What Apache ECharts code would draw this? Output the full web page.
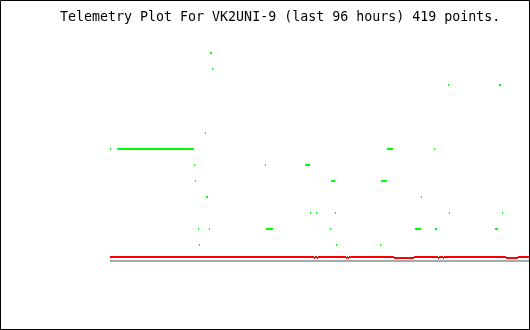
<!DOCTYPE html>
<html>
<head>
<meta charset="utf-8">
<script src="https://cdn.jsdelivr.net/npm/echarts@6/dist/echarts.min.js"></script>
<style>
html,body{margin:0;padding:0;background:#fff;}
#chart{width:530px;height:330px;}
</style>
</head>
<body>
<div id="chart"></div>
<script>
// Title
const titleText = "Telemetry Plot For VK2UNI-9 (last 96 hours) 419 points.";

// Green telemetry readings: runs of consecutive samples (sample index start, end) at a level
const greenStart = [0, 7, 84, 85, 88, 89, 95, 96, 99, 100, 102, 155, 156, 195, 200, 206, 220, 221, 225, 226, 270, 271, 277, 305, 311, 324, 325, 338, 339, 385, 389, 392];
const greenEnd   = [0, 83, 84, 85, 88, 89, 95, 97, 99, 101, 102, 155, 162, 199, 200, 206, 220, 224, 225, 226, 270, 276, 282, 310, 311, 324, 326, 338, 339, 387, 390, 392];
const greenLevel = [7, 7, 6, 5, 2, 1, 8, 4, 2, 13, 12, 6, 2, 6, 3, 3, 2, 5, 3, 1, 1, 5, 7, 2, 4, 7, 2, 11, 3, 2, 11, 3];

// Red series: runs starting at sample index, with value
const redStart = [0, 204, 205, 207, 208, 236, 237, 238, 239, 284, 304, 328, 329, 333, 334, 396, 408];
const redValue = [0.25, 0.1875, 0.25, 0.1875, 0.25, 0.1875, 0.25, 0.1875, 0.25, 0.1875, 0.25, 0.1875, 0.25, 0.1875, 0.25, 0.1875, 0.25];

// Gray baseline series
const grayStart = [0];
const grayValue = [0];

const lastIndex = 418;

function runsFrom(starts, values) {
  return starts.map((s, i) => [s, (i + 1 < starts.length ? starts[i + 1] - 1 : lastIndex), values[i]]);
}
const greenData = greenStart.map((s, i) => [s, greenEnd[i], greenLevel[i]]);
const redData = runsFrom(redStart, redValue);
const grayData = runsFrom(grayStart, grayValue);

function renderRun(params, api) {
  const s = api.value(0), e = api.value(1), v = api.value(2);
  const p0 = api.coord([s, v]);
  const p1 = api.coord([e + 1, v]);
  return {
    type: 'rect',
    shape: { x: p0[0], y: p0[1] - 1, width: p1[0] - p0[0], height: 2 },
    style: { fill: api.visual('color') }
  };
}

const chart = echarts.init(document.getElementById('chart'), null, { renderer: 'canvas' });
chart.setOption({
  animation: false,
  backgroundColor: '#ffffff',
  grid: { left: 110, top: 21, width: 419, height: 240, containLabel: false },
  xAxis: { type: 'value', min: 0, max: 419, show: false },
  yAxis: { type: 'value', min: 0, max: 15, show: false },
  title: {
    text: titleText,
    left: 60, top: 11, padding: 0,
    textStyle: { fontFamily: 'DejaVu Sans Mono', fontSize: 13.3, fontWeight: 'normal', color: '#000' }
  },
  graphic: [{
    type: 'rect', silent: true, z: 100,
    shape: { x: 0.5, y: 0.5, width: 529, height: 329 },
    style: { fill: 'none', stroke: '#000', lineWidth: 1 }
  }],
  series: [
    { type: 'custom', name: 'gray', renderItem: renderRun, data: grayData, itemStyle: { color: '#a9a9a9' }, encode: { x: [0, 1], y: 2 }, z: 1 },
    { type: 'custom', name: 'red', renderItem: renderRun, data: redData, itemStyle: { color: '#ff0000' }, encode: { x: [0, 1], y: 2 }, z: 2 },
    { type: 'custom', name: 'green', renderItem: renderRun, data: greenData, itemStyle: { color: '#00ff00' }, encode: { x: [0, 1], y: 2 }, z: 3 }
  ]
});
</script>
</body>
</html>
